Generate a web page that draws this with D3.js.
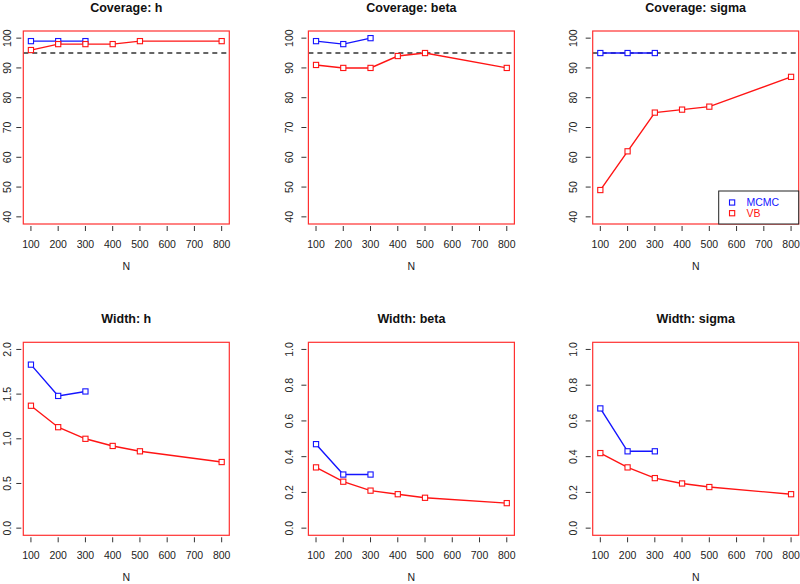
<!DOCTYPE html>
<html>
<head>
<meta charset="utf-8">
<script src="https://cdn.jsdelivr.net/npm/d3@7"></script>
<style>
  html, body { margin: 0; padding: 0; background: #fff; }
  svg { display: block; }
  text { font-family: "Liberation Sans", Arial, Helvetica, sans-serif; fill: #222; }
</style>
</head>
<body>
<script>
// ---------------- data ----------------
const nMCMC = [100, 200, 300];
const nVB = [100, 200, 300, 400, 500, 800];
const xTicks = [100, 200, 300, 400, 500, 600, 700, 800];

const titles = ["Coverage: h", "Coverage: beta", "Coverage: sigma", "Width: h", "Width: beta", "Width: sigma"];

const covHMCMC = [99, 99, 99];
const covHVB = [96, 98, 98, 98, 99, 99];
const covBetaMCMC = [99, 98, 100];
const covBetaVB = [91, 90, 90, 94, 95, 90];
const covSigmaMCMC = [95, 95, 95];
const covSigmaVB = [49, 62, 75, 76, 77, 87];

const widHMCMC = [1.83, 1.48, 1.53];
const widHVB = [1.37, 1.13, 1.00, 0.92, 0.86, 0.74];
const widBetaMCMC = [0.47, 0.30, 0.30];
const widBetaVB = [0.34, 0.26, 0.21, 0.19, 0.17, 0.14];
const widSigmaMCMC = [0.67, 0.43, 0.43];
const widSigmaVB = [0.42, 0.34, 0.28, 0.25, 0.23, 0.19];

const covTicks = [40, 50, 60, 70, 80, 90, 100];
const widHTicks = [0, 0.5, 1.0, 1.5, 2.0];
const widTicks = [0, 0.2, 0.4, 0.6, 0.8, 1.0];
const covRange = [40, 100];
const widHRange = [0, 2];
const widRange = [0, 1];
const refLine = 95;

const legendLabels = ["MCMC", "VB"];
const seriesColors = ["#1414ff", "#ff1414"];

// ---------------- layout ----------------
const W = 800, H = 584;
const boxW = 206;
const colLeft = [23.3, 308.4, 592.7];
const rowTop = [31, 342.3];
const boxH = 193;
const yLabelOffset = [12, 15.5, 15.5]; // baseline distance left of box

const panels = [
  { title: titles[0], mc: covHMCMC, vb: covHVB, ticks: covTicks, range: covRange, ref: true, fmt: d3.format("d") },
  { title: titles[1], mc: covBetaMCMC, vb: covBetaVB, ticks: covTicks, range: covRange, ref: true, fmt: d3.format("d") },
  { title: titles[2], mc: covSigmaMCMC, vb: covSigmaVB, ticks: covTicks, range: covRange, ref: true, legend: true, fmt: d3.format("d") },
  { title: titles[3], mc: widHMCMC, vb: widHVB, ticks: widHTicks, range: widHRange, fmt: d3.format(".1f") },
  { title: titles[4], mc: widBetaMCMC, vb: widBetaVB, ticks: widTicks, range: widRange, fmt: d3.format(".1f") },
  { title: titles[5], mc: widSigmaMCMC, vb: widSigmaVB, ticks: widTicks, range: widRange, fmt: d3.format(".1f") }
];

const svg = d3.select("body").append("svg").attr("width", W).attr("height", H);

function ext(r) { const e = (r[1] - r[0]) * 0.04; return [r[0] - e, r[1] + e]; }
const xDom = ext([100, 800]);

panels.forEach((p, i) => {
  const col = i % 3, row = Math.floor(i / 3);
  const L = colLeft[col], T = rowTop[row];
  const x = d3.scaleLinear().domain(xDom).range([L, L + boxW]);
  const y = d3.scaleLinear().domain(ext(p.range)).range([T + boxH, T]);
  const g = svg.append("g");

  // title
  g.append("text").attr("x", L + boxW / 2).attr("y", T - 19.5)
    .attr("text-anchor", "middle").attr("font-size", 12.5).attr("font-weight", "bold")
    .style("fill", "#111").text(p.title);

  // x axis ticks
  const xa = g.append("g");
  xTicks.forEach(t => {
    xa.append("line").attr("x1", x(t)).attr("x2", x(t))
      .attr("y1", T + boxH + 2).attr("y2", T + boxH + 7)
      .attr("stroke", "#333").attr("stroke-width", 1);
    xa.append("text").attr("x", x(t)).attr("y", T + boxH + 23.5)
      .attr("text-anchor", "middle").attr("font-size", 10.5).text(t);
  });
  g.append("text").attr("x", L + boxW / 2).attr("y", T + boxH + 46)
    .attr("text-anchor", "middle").attr("font-size", 10.5).text("N");

  // y axis ticks
  p.ticks.forEach(t => {
    g.append("line").attr("x1", L - 2).attr("x2", L - 7)
      .attr("y1", y(t)).attr("y2", y(t))
      .attr("stroke", "#333").attr("stroke-width", 1);
    g.append("text")
      .attr("transform", `translate(${L - yLabelOffset[col]},${y(t)}) rotate(-90)`)
      .attr("text-anchor", "middle").attr("font-size", 10.5).text(p.fmt(t));
  });

  // reference line
  if (p.ref) {
    g.append("line").attr("x1", L).attr("x2", L + boxW)
      .attr("y1", y(refLine)).attr("y2", y(refLine))
      .attr("stroke", "#333").attr("stroke-width", 1.4)
      .attr("stroke-dasharray", "5,4");
  }

  // series
  const line = d3.line().x(d => x(d[0])).y(d => y(d[1]));
  const series = [d3.zip(nMCMC, p.mc), d3.zip(nVB, p.vb)];
  series.forEach((s, k) => {
    g.append("path").datum(s).attr("d", line)
      .attr("fill", "none").attr("stroke", seriesColors[k]).attr("stroke-width", 1.4);
    g.selectAll(null).data(s).enter().append("rect")
      .attr("x", d => x(d[0]) - 2.6).attr("y", d => y(d[1]) - 2.6)
      .attr("width", 5.2).attr("height", 5.2)
      .attr("fill", "#fff").attr("stroke", seriesColors[k]).attr("stroke-width", 1.1);
  });

  // box
  g.append("rect").attr("x", L).attr("y", T).attr("width", boxW).attr("height", boxH)
    .attr("fill", "none").attr("stroke", "#ff3030").attr("stroke-width", 1.2);

  // legend
  if (p.legend) {
    const lw = 80, lh = 33;
    const lx = L + boxW - lw, ly = T + boxH - lh;
    const lg = g.append("g");
    lg.append("rect").attr("x", lx).attr("y", ly).attr("width", lw).attr("height", lh)
      .attr("fill", "#fff").attr("stroke", "#222").attr("stroke-width", 1);
    legendLabels.forEach((lab, k) => {
      const cy = ly + 11.5 + k * 10.7;
      lg.append("rect").attr("x", lx + 13.4 - 2.6).attr("y", cy - 2.6)
        .attr("width", 5.2).attr("height", 5.2)
        .attr("fill", "#fff").attr("stroke", seriesColors[k]).attr("stroke-width", 1.1);
      lg.append("text").attr("x", lx + 27.7).attr("y", cy + 3.8)
        .attr("font-size", 10.5).style("fill", seriesColors[k]).text(lab);
    });
  }
});
</script>
</body>
</html>
